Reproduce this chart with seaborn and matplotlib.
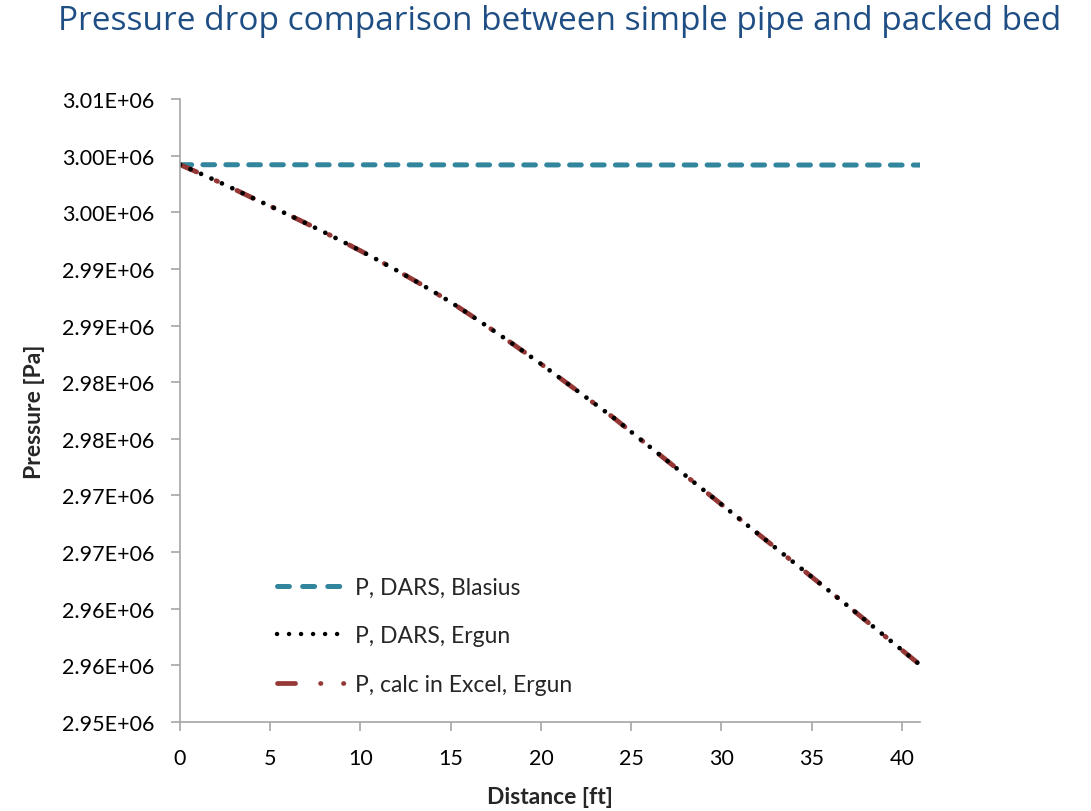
import matplotlib
matplotlib.use("Agg")
import matplotlib.pyplot as plt
from matplotlib.lines import Line2D
import seaborn as sns
import pandas as pd

# ---------------- data ----------------
distance_ft = list(range(0, 42))
p_dars_ergun = [2999200, 2998510, 2997790, 2997045, 2996280, 2995540, 2994785,
                2994015, 2993230, 2992425, 2991600, 2990750, 2989875, 2988970,
                2988035, 2987065, 2986025, 2984955, 2983860, 2982745, 2981610,
                2980430, 2979250, 2978070, 2976890, 2975610, 2974330, 2973050,
                2971770, 2970490, 2969210, 2967930, 2966650, 2965370, 2964090,
                2962810, 2961530, 2960250, 2958950, 2957650, 2956350, 2955050]
p_excel_ergun = [2999200, 2998510, 2997790, 2997045, 2996280, 2995540, 2994785,
                 2994015, 2993230, 2992425, 2991600, 2990750, 2989875, 2988970,
                 2988035, 2987065, 2986025, 2984955, 2983860, 2982745, 2981610,
                 2980430, 2979250, 2978070, 2976890, 2975610, 2974330, 2973050,
                 2971770, 2970490, 2969210, 2967930, 2966650, 2965370, 2964090,
                 2962810, 2961530, 2960250, 2958950, 2957650, 2956350, 2955050]
blasius_ft = [0, 10, 20, 30, 41]
p_dars_blasius = [2999200, 2999190, 2999180, 2999175, 2999170]

series_names = ["P, DARS, Blasius", "P, DARS, Ergun", "P, calc in Excel, Ergun"]
x_ticks = [0, 5, 10, 15, 20, 25, 30, 35, 40]
y_ticks = [2950000, 2955000, 2960000, 2965000, 2970000, 2975000,
           2980000, 2985000, 2990000, 2995000, 3000000, 3005000]
y_tick_labels = ["2.95E+06", "2.96E+06", "2.96E+06", "2.97E+06", "2.97E+06",
                 "2.98E+06", "2.98E+06", "2.99E+06", "2.99E+06", "3.00E+06",
                 "3.00E+06", "3.01E+06"]
title = "Pressure drop comparison between simple pipe and packed bed"
x_label = "Distance [ft]"
y_label = "Pressure [Pa]"

# ---------------- style ----------------
sns.set_theme(style="white")
plt.rcParams["font.family"] = ["Lato", "DejaVu Sans"]
plt.rcParams["lines.scale_dashes"] = False

c_blasius = "#31859C"
c_dars = "#000000"
c_excel = "#953735"
spine_c = "#A6A6A6"

fig = plt.figure(figsize=(10.91, 8.12), dpi=100)
ax = fig.add_axes([180 / 1091, 1 - 723 / 812, (920 - 180) / 1091, (723 - 100) / 812])

df_b = pd.DataFrame({"x": blasius_ft, "p": p_dars_blasius})
df_e = pd.DataFrame({"x": distance_ft, "dars": p_dars_ergun, "excel": p_excel_ergun})

ls_blasius = (0, (8.4, 8.1))
ls_dots = (0, (0.05, 8.2))
ls_excel = (0, (13.0, 15.5, 1.0, 15.5))

sns.lineplot(data=df_b, x="x", y="p", ax=ax, color=c_blasius, lw=3.6,
             linestyle=ls_blasius, dash_capstyle="round", sort=False)
sns.lineplot(data=df_e, x="x", y="excel", ax=ax, color=c_excel, lw=3.5,
             linestyle=ls_excel, dash_capstyle="round", sort=False)
sns.lineplot(data=df_e, x="x", y="dars", ax=ax, color=c_dars, lw=3.4,
             linestyle=ls_dots, dash_capstyle="round", sort=False)

ax.set_xlim(0, 41)
ax.set_ylim(2950000, 3005000)
ax.set_xticks(x_ticks)
ax.set_xticklabels([str(v) for v in x_ticks], fontsize=15.5)
ax.set_yticks(y_ticks)
ax.set_yticklabels(y_tick_labels, fontsize=15.5)

for s in ["top", "right"]:
    ax.spines[s].set_visible(False)
for s in ["left", "bottom"]:
    ax.spines[s].set_color(spine_c)
    ax.spines[s].set_linewidth(1.2)
ax.tick_params(axis="both", which="major", direction="out", length=6.5,
               width=1.2, color=spine_c, left=True, bottom=True,
               labelcolor="#000000")
ax.tick_params(axis="y", pad=12)
ax.tick_params(axis="x", pad=12)

ax.set_xlabel(x_label, fontsize=16.5, fontweight="bold", labelpad=13)
ax.set_ylabel(y_label, fontsize=16.5, fontweight="bold", labelpad=12)
ax.grid(False)

fig.text(58 / 1091, 1 - 22 / 812, title, fontsize=24, color="#1F4E84",
         ha="left", va="center", family=["Open Sans", "DejaVu Sans"])

handles = [
    Line2D([], [], color=c_blasius, lw=3.6, linestyle=(0, (8.6, 9.5)),
           dash_capstyle="round"),
    Line2D([], [], color=c_dars, lw=3.2, linestyle=(0, (0.05, 8.6)), dash_capstyle="round"),
    Line2D([], [], color=c_excel, lw=3.4,
           linestyle=(0, (13.0, 18.0, 0.3, 16.2, 0.3, 20.0)), dash_capstyle="round"),
]
fig.legend(handles, series_names, loc="upper left",
           bbox_to_anchor=(277 / 1091, 1 - 578 / 812), frameon=False,
           fontsize=16.5, handlelength=3.0, handletextpad=0.4,
           labelspacing=1.2, borderpad=0, borderaxespad=0)

fig.savefig("out.png", dpi=100)
